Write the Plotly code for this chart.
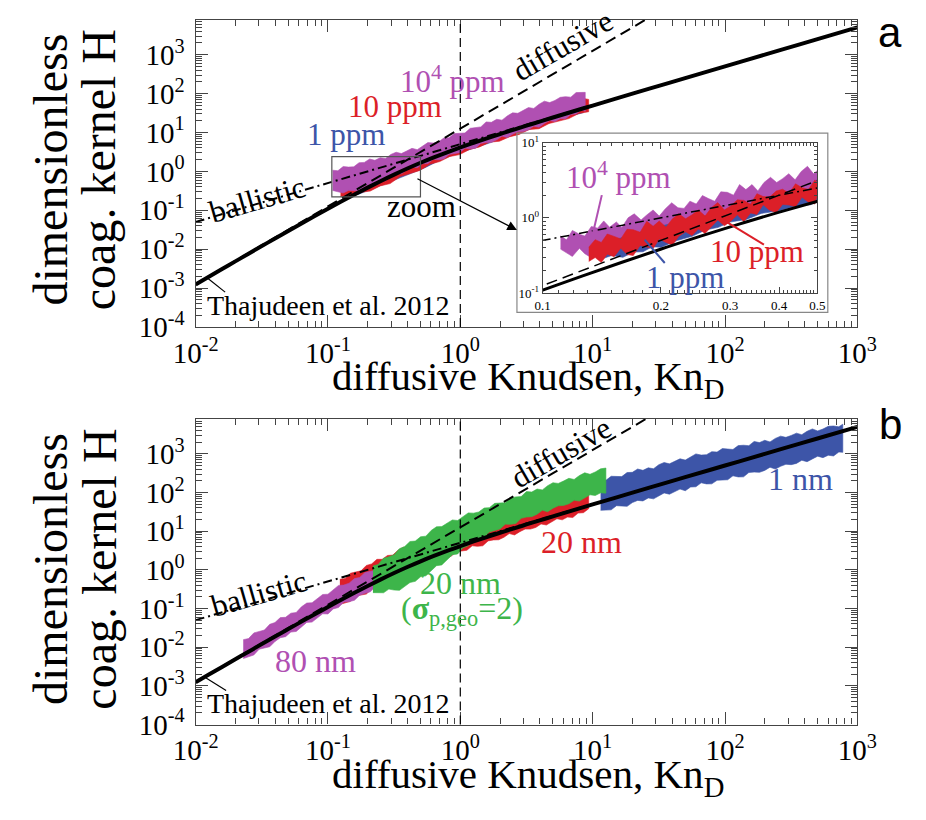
import numpy as np
import plotly.graph_objects as go

W, H = 926, 820

# ---------------- theory curves ----------------
# Thajudeen et al. 2012 transition-regime kernel H(Kn_D)
kn_theory = [0.01, 0.01259, 0.01585, 0.01995, 0.02512, 0.03162, 0.03981, 0.05012, 0.0631, 0.07943,
             0.1, 0.1259, 0.1585, 0.1995, 0.2512, 0.3162, 0.3981, 0.5012, 0.631, 0.7943,
             1.0, 1.259, 1.585, 1.995, 2.512, 3.162, 3.981, 5.012, 6.31, 7.943,
             10.0, 20.0, 31.62, 50.0, 100.0, 200.0, 316.2, 500.0, 1000.0]
h_theory = [0.001239, 0.001956, 0.003086, 0.004862, 0.007651, 0.01202, 0.01883, 0.02943, 0.04584, 0.07107,
            0.1096, 0.1679, 0.2549, 0.383, 0.5676, 0.8281, 1.186, 1.665, 2.293, 3.101,
            4.127, 5.424, 7.058, 9.114, 11.70, 14.96, 19.06, 24.23, 30.73, 38.92,
            49.23, 99.35, 157.6, 249.8, 500.4, 1001.7, 1584.0, 2505.7, 5012.4]
# diffusive limit 4*pi*Kn^2 and ballistic limit sqrt(8*pi)*Kn (end points)
kn_diffusive = [0.01, 30.0]
h_diffusive = [0.0012566, 11310.0]
kn_ballistic = [0.01, 10.0]
h_ballistic = [0.050133, 50.133]

# ---------------- panel a: simulation envelopes (log10 Kn, log10 H) ----------------
a_purple_logkn = [-0.965, -0.925, -0.885, -0.845, -0.805, -0.765, -0.725, -0.685, -0.645, -0.605,
                  -0.565, -0.525, -0.485, -0.445, -0.405, -0.365, -0.325, -0.285, -0.245, -0.205,
                  -0.165, -0.125, -0.085, -0.045, -0.005, 0.035, 0.075, 0.115, 0.155, 0.195,
                  0.235, 0.275, 0.315, 0.355, 0.395, 0.435, 0.475, 0.515, 0.555, 0.595,
                  0.635, 0.675, 0.715, 0.755, 0.795, 0.835, 0.875, 0.915, 0.944]
a_purple_hi = [0.030, 0.017, 0.124, 0.110, 0.117, 0.224, 0.231, 0.318, 0.284, 0.351,
               0.328, 0.435, 0.492, 0.458, 0.525, 0.592, 0.559, 0.651, 0.740, 0.728,
               0.756, 0.855, 0.863, 0.971, 0.980, 0.988, 1.107, 1.135, 1.144, 1.272,
               1.261, 1.339, 1.317, 1.426, 1.504, 1.493, 1.561, 1.640, 1.618, 1.726,
               1.805, 1.768, 1.825, 1.903, 1.921, 1.908, 2.026, 2.024, 2.031]
a_purple_lo = [-0.490, -0.523, -0.557, -0.490, -0.500, -0.500, -0.400, -0.340, -0.341, -0.243,
               -0.244, -0.146, -0.048, -0.059, 0.019, 0.117, 0.095, 0.194, 0.202, 0.310,
               0.298, 0.317, 0.435, 0.466, 0.481, 0.595, 0.580, 0.594, 0.719, 0.743,
               0.747, 0.812, 0.906, 0.871, 0.955, 1.020, 1.024, 1.069, 1.163, 1.137,
               1.232, 1.306, 1.281, 1.355, 1.350, 1.464, 1.478, 1.583, 1.545]

a_red_logkn = [-0.905, -0.83, -0.755, -0.68, -0.605, -0.53, -0.455, -0.38, -0.305, -0.23,
               -0.155, -0.08, -0.005, 0.07, 0.145, 0.22, 0.295, 0.37, 0.445, 0.52,
               0.595, 0.67, 0.745, 0.82, 0.895, 0.97]
a_red_hi = [-0.20, -0.12, 0.00, 0.02, 0.14, 0.17, 0.30, 0.31, 0.42, 0.47,
            0.58, 0.65, 0.78, 0.86, 0.98, 1.05, 1.18, 1.24, 1.36, 1.44,
            1.58, 1.63, 1.74, 1.78, 1.90, 1.85]
a_red_lo = [-0.645, -0.665, -0.54, -0.505, -0.373, -0.313, -0.134, -0.064, 0.025, 0.184,
            0.253, 0.382, 0.431, 0.564, 0.628, 0.751, 0.774, 0.887, 0.951, 1.074,
            1.097, 1.23, 1.294, 1.357, 1.49, 1.533]

a_blue_logkn = [-0.87, -0.77, -0.67, -0.57, -0.47, -0.37, -0.27, -0.17, -0.07, 0.03,
                0.13, 0.23, 0.33, 0.43, 0.53, 0.63, 0.73, 0.83, 0.93]
a_blue_hi = [-0.18, -0.04, 0.05, 0.15, 0.27, 0.37, 0.49, 0.62, 0.75, 0.90,
             1.02, 1.13, 1.26, 1.38, 1.52, 1.64, 1.72, 1.82, 1.90]
a_blue_lo = [-0.66, -0.59, -0.47, -0.33, -0.19, -0.05, 0.09, 0.26, 0.40, 0.53,
             0.63, 0.74, 0.87, 0.99, 1.10, 1.21, 1.31, 1.42, 1.51]

# ---------------- inset of panel a (Kn, log10 H) ----------------
inset_purple_kn = [0.111, 0.115, 0.119, 0.124, 0.128, 0.133, 0.138, 0.143, 0.148, 0.154,
                   0.159, 0.165, 0.171, 0.178, 0.184, 0.191, 0.198, 0.205, 0.213, 0.221,
                   0.229, 0.237, 0.246, 0.255, 0.264, 0.274, 0.284, 0.295, 0.306, 0.317,
                   0.329, 0.341, 0.353, 0.366, 0.38, 0.394, 0.408, 0.423, 0.439, 0.455,
                   0.472, 0.489, 0.5]
inset_purple_hi = [-0.239, -0.292, -0.166, -0.217, -0.242, -0.113, -0.136, -0.040, -0.124, -0.054,
                   -0.126, 0.002, 0.054, -0.027, 0.039, 0.106, 0.024, 0.120, 0.202, 0.135,
                   0.127, 0.223, 0.185, 0.298, 0.259, 0.221, 0.347, 0.341, 0.303, 0.444,
                   0.377, 0.444, 0.360, 0.473, 0.540, 0.471, 0.523, 0.589, 0.507, 0.619,
                   0.687, 0.588, 0.632]
inset_purple_lo = [-0.415, -0.465, -0.512, -0.405, -0.476, -0.530, -0.440, -0.383, -0.430, -0.337,
                   -0.403, -0.314, -0.225, -0.298, -0.241, -0.152, -0.243, -0.130, -0.152, -0.023,
                   -0.090, -0.113, 0.000, -0.006, -0.029, 0.099, 0.031, 0.011, 0.150, 0.137,
                   0.094, 0.141, 0.232, 0.129, 0.206, 0.252, 0.209, 0.225, 0.317, 0.229,
                   0.321, 0.382, 0.288]

inset_red_kn = [0.131, 0.136, 0.141, 0.146, 0.152, 0.158, 0.164, 0.17, 0.177, 0.184,
                0.191, 0.198, 0.206, 0.214, 0.222, 0.231, 0.24, 0.249, 0.259, 0.269,
                0.279, 0.29, 0.301, 0.313, 0.325, 0.338, 0.351, 0.364, 0.378, 0.393,
                0.408, 0.424, 0.44, 0.457, 0.475, 0.493, 0.5]
inset_red_hi = [-0.390, -0.289, -0.326, -0.214, -0.246, -0.280, -0.151, -0.158, -0.191, -0.045,
                -0.111, -0.041, -0.123, -0.011, 0.055, -0.011, 0.041, 0.107, 0.025, 0.138,
                0.204, 0.106, 0.159, 0.241, 0.233, 0.181, 0.322, 0.284, 0.277, 0.358,
                0.381, 0.328, 0.454, 0.402, 0.380, 0.506, 0.469]
inset_red_lo = [-0.580, -0.527, -0.594, -0.482, -0.516, -0.403, -0.488, -0.500, -0.368, -0.387,
                -0.408, -0.279, -0.327, -0.361, -0.245, -0.185, -0.234, -0.146, -0.206, -0.115,
                -0.027, -0.104, -0.044, 0.043, -0.051, 0.066, 0.047, 0.176, 0.101, 0.072,
                0.180, 0.171, 0.149, 0.276, 0.209, 0.185, 0.313]

inset_blue_kn = [0.14, 0.15, 0.16, 0.17, 0.18, 0.19, 0.2, 0.22, 0.24, 0.26,
                 0.28, 0.3, 0.33, 0.36, 0.4, 0.44, 0.48, 0.5]
inset_blue_hi = [-0.347, -0.301, -0.268, -0.222, -0.180, -0.155, -0.108, -0.056, -0.013, 0.025,
                 0.079, 0.121, 0.176, 0.220, 0.279, 0.332, 0.380, 0.398]
inset_blue_lo = [-0.553, -0.50, -0.525, -0.455, -0.45, -0.385, -0.39, -0.30, -0.245, -0.16,
                 -0.125, -0.055, -0.02, 0.06, 0.095, 0.16, 0.175, 0.215]

# ---------------- panel b: simulation envelopes (log10 Kn, log10 H) ----------------
b_magenta_logkn = [-1.64, -1.60, -1.56, -1.52, -1.48, -1.44, -1.40, -1.36, -1.32, -1.28,
                   -1.24, -1.20, -1.16, -1.12, -1.08, -1.04, -1.00, -0.96, -0.92, -0.88,
                   -0.84, -0.80, -0.76, -0.72, -0.68, -0.64, -0.60, -0.56, -0.52, -0.48,
                   -0.44, -0.40, -0.36, -0.32, -0.28, -0.24, -0.20, -0.16, -0.12, -0.08,
                   -0.04]
b_magenta_hi = [-1.805, -1.778, -1.631, -1.603, -1.556, -1.409, -1.362, -1.235, -1.227, -1.120,
                -1.103, -0.956, -0.859, -0.851, -0.744, -0.637, -0.630, -0.511, -0.402, -0.393,
                -0.344, -0.226, -0.197, -0.068, -0.039, -0.010, 0.129, 0.178, 0.207, 0.356,
                0.365, 0.464, 0.449, 0.563, 0.648, 0.643, 0.717, 0.802, 0.787, 0.902,
                0.986]
b_magenta_lo = [-2.295, -2.248, -2.201, -2.053, -2.026, -1.989, -1.852, -1.755, -1.727, -1.610,
                -1.593, -1.476, -1.359, -1.351, -1.254, -1.137, -1.140, -1.011, -0.972, -0.833,
                -0.824, -0.786, -0.657, -0.608, -0.569, -0.430, -0.421, -0.382, -0.233, -0.184,
                -0.155, -0.066, 0.039, 0.013, 0.108, 0.183, 0.197, 0.252, 0.357, 0.342,
                0.446]

b_red_logkn = [-0.91, -0.87, -0.83, -0.79, -0.75, -0.71, -0.67, -0.63, -0.59, -0.55,
               -0.51, -0.47, -0.43, -0.39, -0.35, -0.31, -0.27, -0.23, -0.19, -0.15,
               -0.11, -0.07, -0.03, 0.01, 0.05, 0.09, 0.13, 0.17, 0.21, 0.25,
               0.29, 0.33, 0.37, 0.41, 0.45, 0.49, 0.53, 0.57, 0.61, 0.65,
               0.69, 0.73, 0.77, 0.81, 0.85, 0.89, 0.93, 0.97]
b_red_hi = [-0.244, -0.224, -0.085, -0.065, -0.026, 0.114, 0.154, 0.273, 0.273, 0.372,
            0.382, 0.508, 0.585, 0.571, 0.657, 0.744, 0.730, 0.836, 0.932, 0.929,
            0.965, 1.071, 1.088, 1.186, 1.185, 1.183, 1.292, 1.311, 1.309, 1.428,
            1.407, 1.475, 1.444, 1.542, 1.611, 1.590, 1.645, 1.710, 1.675, 1.770,
            1.835, 1.790, 1.846, 1.920, 1.935, 1.920, 2.035, 2.031]
b_red_lo = [-0.894, -0.854, -0.815, -0.675, -0.656, -0.626, -0.496, -0.407, -0.387, -0.278,
            -0.268, -0.172, -0.075, -0.089, -0.013, 0.084, 0.060, 0.176, 0.202, 0.329,
            0.325, 0.351, 0.468, 0.493, 0.508, 0.623, 0.608, 0.624, 0.749, 0.774,
            0.779, 0.844, 0.939, 0.904, 0.989, 1.054, 1.055, 1.097, 1.188, 1.160,
            1.251, 1.322, 1.294, 1.365, 1.356, 1.468, 1.479, 1.581]

b_green_logkn = [-0.66, -0.62, -0.58, -0.54, -0.50, -0.46, -0.42, -0.38, -0.34, -0.30,
                 -0.26, -0.22, -0.18, -0.14, -0.10, -0.06, -0.02, 0.02, 0.06, 0.10,
                 0.14, 0.18, 0.22, 0.26, 0.30, 0.34, 0.38, 0.42, 0.46, 0.50,
                 0.54, 0.58, 0.62, 0.66, 0.70, 0.74, 0.78, 0.82, 0.86, 0.90,
                 0.94, 0.98, 1.02, 1.06, 1.10]
b_green_hi = [0.101, 0.142, 0.300, 0.337, 0.394, 0.548, 0.602, 0.735, 0.745, 0.856,
              0.872, 1.020, 1.115, 1.119, 1.207, 1.292, 1.277, 1.381, 1.474, 1.467,
              1.498, 1.600, 1.610, 1.720, 1.730, 1.739, 1.859, 1.888, 1.896, 2.025,
              2.013, 2.091, 2.069, 2.177, 2.254, 2.236, 2.297, 2.368, 2.339, 2.440,
              2.511, 2.472, 2.533, 2.613, 2.634]
b_green_lo = [-0.589, -0.590, -0.593, -0.498, -0.522, -0.530, -0.417, -0.326, -0.297, -0.179,
              -0.153, -0.027, 0.107, 0.129, 0.252, 0.391, 0.411, 0.569, 0.627, 0.784,
              0.800, 0.846, 0.981, 1.025, 1.060, 1.183, 1.177, 1.200, 1.332, 1.365,
              1.377, 1.439, 1.541, 1.503, 1.594, 1.656, 1.667, 1.708, 1.799, 1.780,
              1.871, 1.942, 1.923, 1.993, 1.984]

b_blue_logkn = [1.06, 1.10, 1.14, 1.18, 1.22, 1.26, 1.30, 1.34, 1.38, 1.42,
                1.46, 1.50, 1.54, 1.58, 1.62, 1.66, 1.70, 1.74, 1.78, 1.82,
                1.86, 1.90, 1.94, 1.98, 2.02, 2.06, 2.10, 2.14, 2.18, 2.22,
                2.26, 2.30, 2.34, 2.38, 2.42, 2.46, 2.50, 2.54, 2.58, 2.62,
                2.66, 2.70, 2.74, 2.78, 2.82, 2.86, 2.89]
b_blue_hi = [2.330, 2.316, 2.421, 2.407, 2.412, 2.518, 2.523, 2.609, 2.574, 2.640,
             2.616, 2.721, 2.777, 2.742, 2.808, 2.873, 2.839, 2.924, 3.000, 2.969,
             2.979, 3.058, 3.047, 3.137, 3.126, 3.115, 3.214, 3.224, 3.213, 3.322,
             3.292, 3.351, 3.310, 3.400, 3.459, 3.428, 3.477, 3.537, 3.496, 3.585,
             3.645, 3.594, 3.643, 3.713, 3.722, 3.701, 3.770]
b_blue_lo = [1.540, 1.547, 1.553, 1.660, 1.647, 1.643, 1.740, 1.797, 1.783, 1.860,
             1.837, 1.913, 1.990, 1.957, 2.013, 2.090, 2.047, 2.143, 2.150, 2.252,
             2.224, 2.225, 2.317, 2.329, 2.331, 2.433, 2.404, 2.406, 2.518, 2.530,
             2.522, 2.573, 2.655, 2.607, 2.679, 2.731, 2.722, 2.754, 2.836, 2.798,
             2.880, 2.941, 2.903, 2.965, 2.947, 3.049, 3.040]

# ---------------- colours / fonts ----------------
PURPLE = "#B050B2"
RED = "#DC1F28"
BLUE = "#3D55A8"
GREEN = "#3DB54A"
SERIF = "Liberation Serif"
AXC = "#444444"

fig = go.Figure()


def band(kn, hi, lo, color, xa, ya):
    """Filled envelope between the upper and lower edge of a noisy series."""
    xs = list(kn) + list(kn)[::-1]
    ys = list(hi) + list(lo)[::-1]
    fig.add_trace(go.Scatter(x=xs, y=ys, mode="lines", fill="toself", fillcolor=color,
                             line=dict(color=color, width=0.6), hoverinfo="skip",
                             xaxis=xa, yaxis=ya))


def pw(v):
    return np.power(10.0, np.asarray(v, dtype=float))


def logband(logkn, hi, lo, color, xa, ya):
    band(pw(logkn), pw(hi), pw(lo), color, xa, ya)


def theory_lines(xa, ya, wsolid, wdash):
    fig.add_trace(go.Scatter(x=kn_diffusive, y=h_diffusive, mode="lines",
                             line=dict(color="black", width=wdash, dash="11px,6px"),
                             xaxis=xa, yaxis=ya, hoverinfo="skip"))
    fig.add_trace(go.Scatter(x=kn_ballistic, y=h_ballistic, mode="lines",
                             line=dict(color="black", width=wdash, dash="9px,4px,2px,4px"),
                             xaxis=xa, yaxis=ya, hoverinfo="skip"))
    fig.add_trace(go.Scatter(x=kn_theory, y=h_theory, mode="lines", line_shape="spline",
                             line=dict(color="black", width=wsolid),
                             xaxis=xa, yaxis=ya, hoverinfo="skip"))


# panel a
logband(a_blue_logkn, a_blue_hi, a_blue_lo, BLUE, "x", "y")
logband(a_red_logkn, a_red_hi, a_red_lo, RED, "x", "y")
logband(a_purple_logkn, a_purple_hi, a_purple_lo, PURPLE, "x", "y")
theory_lines("x", "y", 4, 2)

# panel b
logband(b_blue_logkn, b_blue_hi, b_blue_lo, BLUE, "x2", "y2")
logband(b_red_logkn, b_red_hi, b_red_lo, RED, "x2", "y2")
logband(b_magenta_logkn, b_magenta_hi, b_magenta_lo, PURPLE, "x2", "y2")
logband(b_green_logkn, b_green_hi, b_green_lo, GREEN, "x2", "y2")
theory_lines("x2", "y2", 4, 2)

# inset
band(inset_purple_kn, pw(inset_purple_hi), pw(inset_purple_lo), PURPLE, "x3", "y3")
band(inset_blue_kn, pw(inset_blue_hi), pw(inset_blue_lo), BLUE, "x3", "y3")
band(inset_red_kn, pw(inset_red_hi), pw(inset_red_lo), RED, "x3", "y3")
theory_lines("x3", "y3", 3, 1.5)

# ---------------- axes ----------------
decades_x = [0.01, 0.1, 1, 10, 100, 1000]
decades_y = [1e-4, 1e-3, 1e-2, 1e-1, 1, 10, 100, 1000]
exp_x = ["-2", "-1", "0", "1", "2", "3"]
exp_y = ["-4", "-3", "-2", "-1", "0", "1", "2", "3"]
minor_x = [m * d for d in [0.01, 0.1, 1, 10, 100] for m in range(2, 10)]
minor_y = [m * d for d in [1e-4, 1e-3, 1e-2, 1e-1, 1, 10, 100, 1000] for m in range(2, 10)]

tickfont = dict(family=SERIF, size=29, color="black")


def main_x(domain, anchor):
    return dict(type="log", range=[-2, 3], domain=domain, anchor=anchor,
                showgrid=False, zeroline=False, showline=True, linecolor=AXC, linewidth=1.3,
                mirror="ticks", ticks="inside", ticklen=12, tickwidth=1.3, tickcolor=AXC,
                tickmode="array", tickvals=decades_x,
                ticktext=["10<sup>%s</sup>" % e for e in exp_x], tickfont=tickfont,
                minor=dict(ticks="inside", ticklen=6, tickwidth=1, tickcolor=AXC,
                           tickmode="array", tickvals=minor_x, showgrid=False))


def main_y(domain, anchor):
    return dict(type="log", range=[-4, 3.9], domain=domain, anchor=anchor,
                showgrid=False, zeroline=False, showline=True, linecolor=AXC, linewidth=1.3,
                mirror="ticks", ticks="inside", ticklen=12, tickwidth=1.3, tickcolor=AXC,
                tickmode="array", tickvals=decades_y, ticklabelstandoff=4,
                ticktext=["10<sup>%s</sup>" % e for e in exp_y], tickfont=tickfont,
                minor=dict(ticks="inside", ticklen=6, tickwidth=1, tickcolor=AXC,
                           tickmode="array", tickvals=minor_y, showgrid=False))


inset_minor_x = [round(0.1 + 0.01 * i, 2) for i in range(1, 40) if i % 10 != 0]
inset_minor_y = [m * d for d in [0.1, 1] for m in range(2, 10)]

fig.update_layout(
    width=W, height=H, margin=dict(l=0, r=0, t=0, b=0),
    paper_bgcolor="white", plot_bgcolor="rgba(0,0,0,0)", showlegend=False,
    xaxis=main_x([181 / W, 875 / W], "y"),
    yaxis=main_y([1 - 328 / H, 1 - 11 / H], "x"),
    xaxis2=main_x([181 / W, 875 / W], "y2"),
    yaxis2=main_y([1 - 738 / H, 1 - 423 / H], "x2"),
    xaxis3=dict(type="log", range=[-1, np.log10(0.5)], domain=[545 / W, 833 / W], anchor="y3",
                showgrid=False, zeroline=False, showline=True, linecolor=AXC, linewidth=1,
                mirror="ticks", ticks="inside", ticklen=6, tickwidth=1, tickcolor=AXC,
                tickmode="array", tickvals=[0.1, 0.2, 0.3, 0.4, 0.5],
                ticktext=["0.1", "0.2", "0.3", "0.4", "0.5"],
                tickfont=dict(family=SERIF, size=13, color="black"),
                minor=dict(ticks="inside", ticklen=3, tickwidth=0.8, tickcolor=AXC,
                           tickmode="array", tickvals=inset_minor_x, showgrid=False)),
    yaxis3=dict(type="log", range=[-1, 1], domain=[1 - 293 / H, 1 - 138 / H], anchor="x3",
                showgrid=False, zeroline=False, showline=True, linecolor=AXC, linewidth=1,
                mirror="ticks", ticks="inside", ticklen=6, tickwidth=1, tickcolor=AXC,
                tickmode="array", tickvals=[0.1, 1, 10],
                ticktext=["10<sup>-1</sup>", "10<sup>0</sup>", "10<sup>1</sup>"],
                tickfont=dict(family=SERIF, size=13, color="black"),
                minor=dict(ticks="inside", ticklen=3, tickwidth=0.8, tickcolor=AXC,
                           tickmode="array", tickvals=inset_minor_y, showgrid=False)),
)


def px(x):
    return x / W


def py(y):
    return 1 - y / H


shapes = []
# Kn_D = 1 markers
for xa, ya in [("x", "y"), ("x2", "y2")]:
    shapes.append(dict(type="line", xref=xa, yref=ya + " domain", x0=1, x1=1, y0=0, y1=1,
                       line=dict(color="black", width=1.2, dash="9px,5px")))
# zoom window
shapes.append(dict(type="rect", xref="x", yref="y", x0=0.107, x1=0.5, y0=0.22, y1=2.4,
                   line=dict(color="#555555", width=1.2)))
# inset frame
shapes.append(dict(type="rect", xref="paper", yref="paper", x0=px(518), x1=px(844),
                   y0=py(313), y1=py(128), line=dict(color="#888888", width=1.2), layer="above"))


def seg(x0, y0, x1, y1, color="black", width=1.2):
    shapes.append(dict(type="line", xref="paper", yref="paper", x0=px(x0), y0=py(y0),
                       x1=px(x1), y1=py(y1), line=dict(color=color, width=width)))


seg(194, 278, 212, 292)
seg(192, 690, 213, 703)
seg(607, 192, 598, 230, PURPLE, 2)
seg(730, 215, 777, 243, RED, 2)
seg(652, 238, 673, 262, BLUE, 2)
fig.update_layout(shapes=shapes)

ann = []


def text(x, y, s, size, color="black", angle=0, family=SERIF):
    ann.append(dict(x=px(x), y=py(y), xref="paper", yref="paper", text=s, showarrow=False,
                    textangle=angle, xanchor="center", yanchor="middle",
                    font=dict(family=family, size=size, color=color)))


# axis titles
for yc in [166, 578]:
    text(29, yc, "dimensionless", 48, angle=-90)
    text(80, yc, "coag. kernel H", 48, angle=-90)
text(530, 382, "diffusive Knudsen, Kn<sub>D</sub>", 41)
text(530, 792, "diffusive Knudsen, Kn<sub>D</sub>", 41)

# panel letters
text(909, 24, "a", 42, family="Liberation Sans")
text(910, 429, "b", 42, family="Liberation Sans")

# panel a labels
text(450, 73, "10<sup>4</sup> ppm", 31, PURPLE)
text(390, 101, "10 ppm", 31, RED)
text(339, 129, "1 ppm", 31, BLUE)
text(245, 196, "ballistic", 31, angle=-16)
text(566, 38, "diffusive", 31, angle=-30)
text(418, 204, "zoom", 31)
text(320, 306, "Thajudeen et al. 2012", 28)

# inset labels
text(625, 172, "10<sup>4</sup> ppm", 31, PURPLE)
text(770, 250, "10 ppm", 31, RED)
text(694, 277, "1 ppm", 31, BLUE)

# panel b labels
text(564, 457, "diffusive", 31, angle=-30)
text(247, 603, "ballistic", 31, angle=-16)
text(459, 592, "20 nm", 32, GREEN)
text(460, 620, "(<b>σ</b><sub>p,geo</sub>=2)", 32, GREEN)
text(586, 550, "20 nm", 32, RED)
text(815, 485, "1 nm", 32, BLUE)
text(307, 672, "80 nm", 32, PURPLE)
text(320, 716, "Thajudeen et al. 2012", 28)

# zoom arrow
ann.append(dict(x=px(518), y=py(228), xref="paper", yref="paper", text="", showarrow=True,
                ax=-101, ay=-52, arrowhead=2, arrowsize=1.6, arrowwidth=1.2, arrowcolor="black"))

fig.update_layout(annotations=ann)
fig.write_html("out.html")
